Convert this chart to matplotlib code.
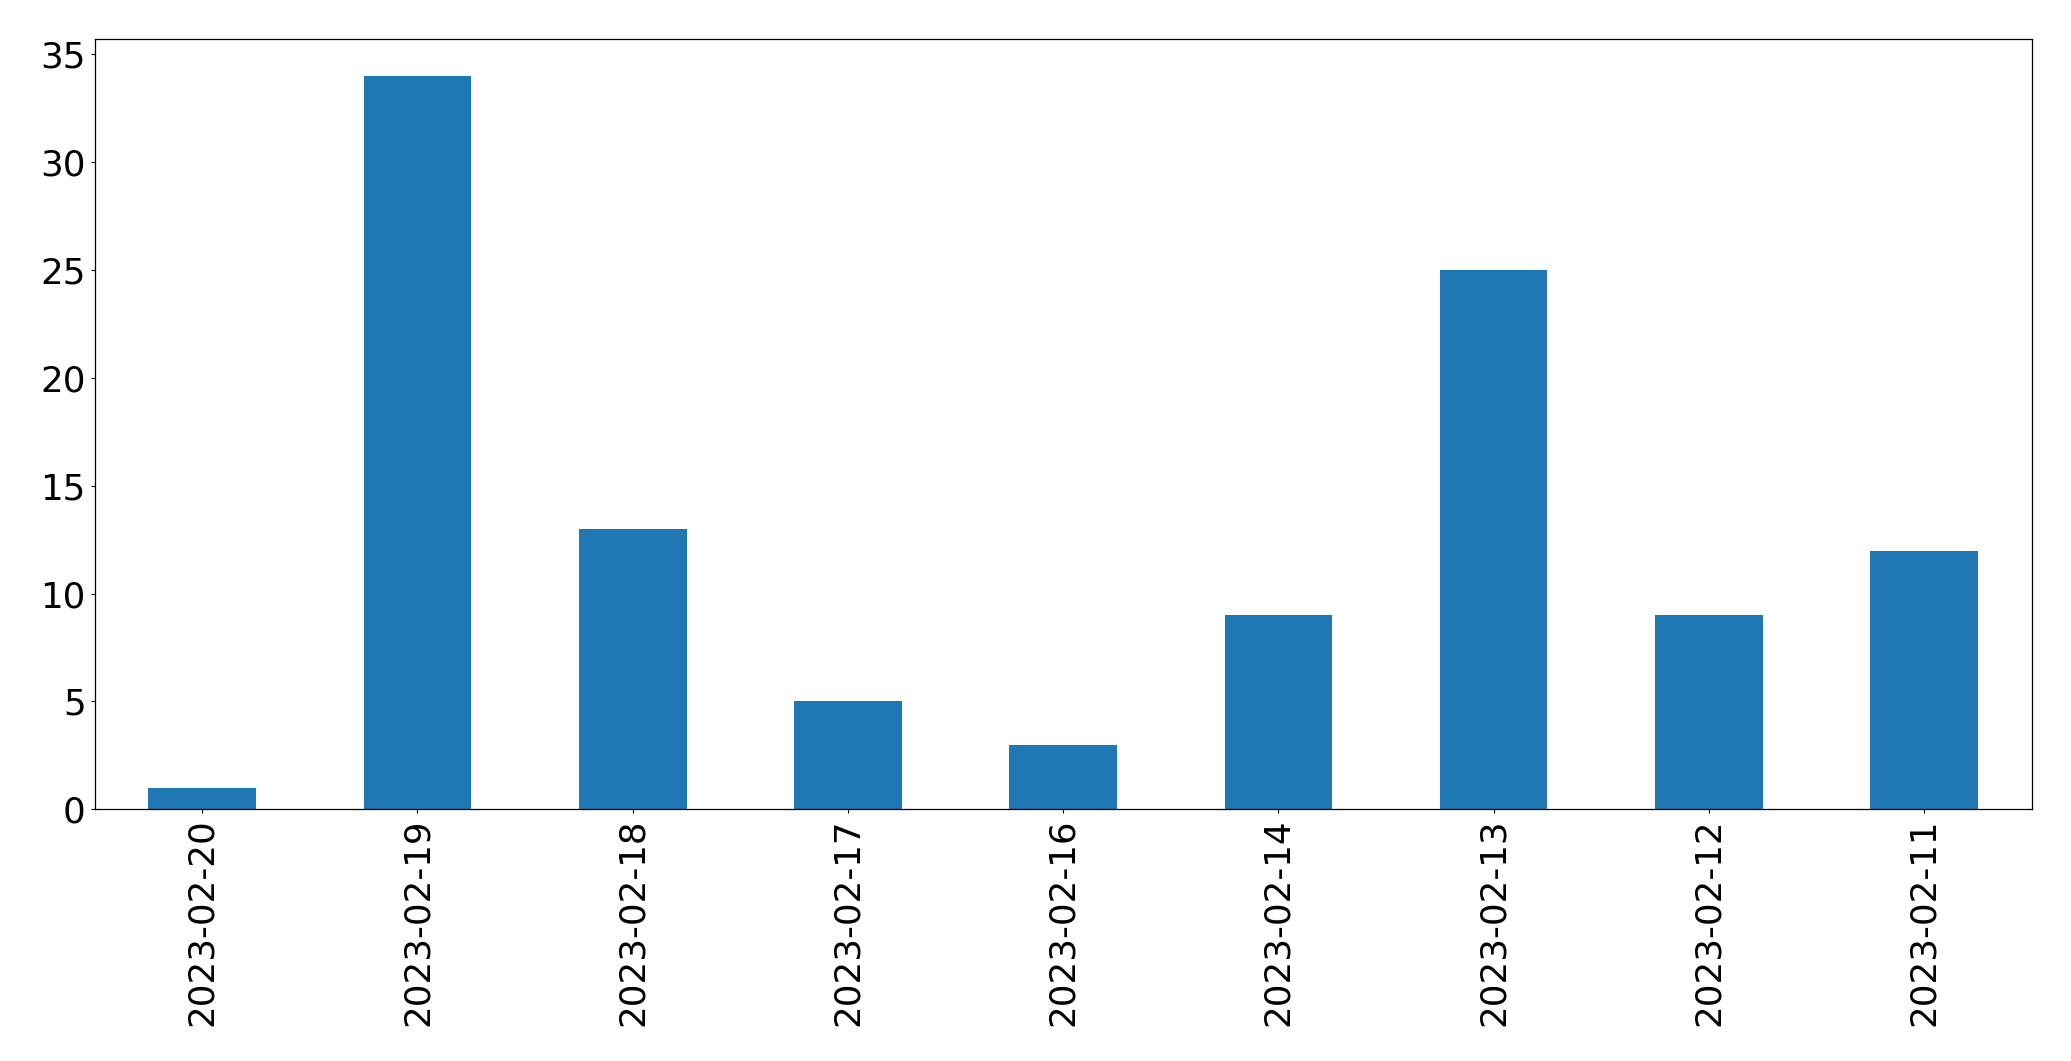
import matplotlib
matplotlib.use("Agg")
import matplotlib.pyplot as plt
import pandas as pd

# Données
dates = ["2023-02-20", "2023-02-19", "2023-02-18", "2023-02-17", "2023-02-16",
         "2023-02-14", "2023-02-13", "2023-02-12", "2023-02-11"]
counts = [1, 34, 13, 5, 3, 9, 25, 9, 12]

serie = pd.Series(counts, index=dates)

fig = plt.figure(figsize=(20.71, 10.61), dpi=100)
ax = fig.add_axes([0.0457, 0.2372, 0.9353, 0.7257])
serie.plot(kind="bar", ax=ax, color="#1f77b4")

ax.tick_params(axis="both", labelsize=25.7, length=2.9, width=0.8)
for s in ax.spines.values():
    s.set_linewidth(0.9)

fig.savefig("out.png", dpi=100)
